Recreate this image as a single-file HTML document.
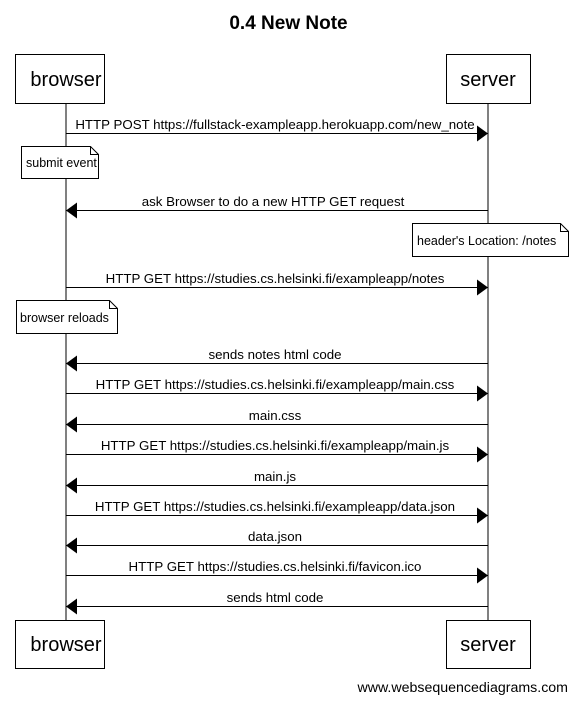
<!DOCTYPE html>
<html><head><meta charset="utf-8"><style>
html,body{margin:0;padding:0;background:#fff;}
svg{display:block;font-family:"Liberation Sans",Arial,sans-serif;}
</style></head><body>
<svg width="577" height="702" viewBox="0 0 577 702" xmlns="http://www.w3.org/2000/svg">
<defs>
<marker id="a" markerWidth="11" markerHeight="16" refX="11" refY="8" orient="auto" markerUnits="userSpaceOnUse"><path d="M0,0 L11,8 L0,16 Z" fill="#000"/></marker>
</defs>
<text x="288.5" y="29" text-anchor="middle" font-size="19" font-weight="bold">0.4 New Note</text>
<line x1="66" y1="103" x2="66" y2="620" stroke="#000"/>
<line x1="488" y1="103" x2="488" y2="620" stroke="#000"/>
<rect x="15.5" y="54.5" width="89" height="49" fill="#fff" stroke="#000"/>
<text x="66" y="86" text-anchor="middle" font-size="20">browser</text>
<rect x="446.5" y="54.5" width="84" height="49" fill="#fff" stroke="#000"/>
<text x="488" y="86" text-anchor="middle" font-size="20">server</text>
<rect x="15.5" y="620.5" width="89" height="48" fill="#fff" stroke="#000"/>
<text x="66" y="651" text-anchor="middle" font-size="20">browser</text>
<rect x="446.5" y="620.5" width="84" height="48" fill="#fff" stroke="#000"/>
<text x="488" y="651" text-anchor="middle" font-size="20">server</text>
<g font-size="13.3" text-anchor="middle">
<line x1="66" y1="133.5" x2="488" y2="133.5" stroke="#000" marker-end="url(#a)"/>
<text x="275" y="129">HTTP POST https://fullstack-exampleapp.herokuapp.com/new_note</text>
<line x1="488" y1="210.5" x2="66" y2="210.5" stroke="#000" marker-end="url(#a)"/>
<text x="273" y="206">ask Browser to do a new HTTP GET request</text>
<line x1="66" y1="287.5" x2="488" y2="287.5" stroke="#000" marker-end="url(#a)"/>
<text x="275" y="283">HTTP GET https://studies.cs.helsinki.fi/exampleapp/notes</text>
<line x1="488" y1="363.5" x2="66" y2="363.5" stroke="#000" marker-end="url(#a)"/>
<text x="275" y="359">sends notes html code</text>
<line x1="66" y1="393.5" x2="488" y2="393.5" stroke="#000" marker-end="url(#a)"/>
<text x="275" y="389">HTTP GET https://studies.cs.helsinki.fi/exampleapp/main.css</text>
<line x1="488" y1="424.5" x2="66" y2="424.5" stroke="#000" marker-end="url(#a)"/>
<text x="275" y="420">main.css</text>
<line x1="66" y1="454.5" x2="488" y2="454.5" stroke="#000" marker-end="url(#a)"/>
<text x="275" y="450">HTTP GET https://studies.cs.helsinki.fi/exampleapp/main.js</text>
<line x1="488" y1="485.5" x2="66" y2="485.5" stroke="#000" marker-end="url(#a)"/>
<text x="275" y="481">main.js</text>
<line x1="66" y1="515.5" x2="488" y2="515.5" stroke="#000" marker-end="url(#a)"/>
<text x="275" y="511">HTTP GET https://studies.cs.helsinki.fi/exampleapp/data.json</text>
<line x1="488" y1="545.5" x2="66" y2="545.5" stroke="#000" marker-end="url(#a)"/>
<text x="275" y="541">data.json</text>
<line x1="66" y1="575.5" x2="488" y2="575.5" stroke="#000" marker-end="url(#a)"/>
<text x="275" y="571">HTTP GET https://studies.cs.helsinki.fi/favicon.ico</text>
<line x1="488" y1="606.5" x2="66" y2="606.5" stroke="#000" marker-end="url(#a)"/>
<text x="275" y="602">sends html code</text>
</g>
<g fill="#fff" stroke="#000">
<path d="M21.5,146.5 H90.5 L98.5,154.5 V178.5 H21.5 Z M90.5,146.5 V154.5 H98.5" />
<path d="M412.5,223.5 H560.5 L568.5,231.5 V256.5 H412.5 Z M560.5,223.5 V231.5 H568.5" />
<path d="M16.5,300.5 H109.5 L117.5,308.5 V333.5 H16.5 Z M109.5,300.5 V308.5 H117.5" />
</g>
<g font-size="12.5">
<text x="26" y="167">submit event</text>
<text x="417" y="245">header's Location: /notes</text>
<text x="20" y="322">browser reloads</text>
</g>
<text x="568" y="692" text-anchor="end" font-size="14.2">www.websequencediagrams.com</text>
</svg>
</body></html>
